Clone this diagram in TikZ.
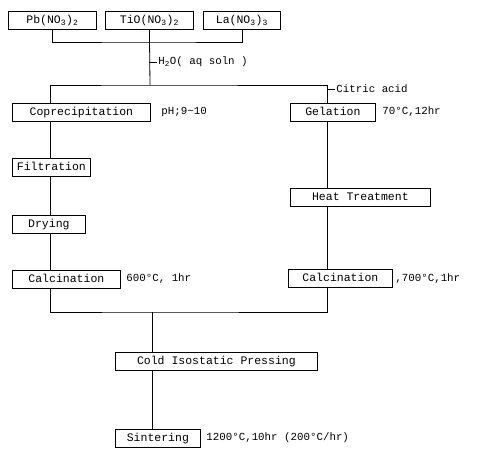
\documentclass[tikz,border=0pt]{standalone}
\usepackage{fontspec}
\setmainfont{Liberation Mono}
\usepackage{tikz}
\usetikzlibrary{arrows}
\tikzset{
	proc node/.style={draw,anchor=west,font=\fontsize{11.5}{12}\selectfont,minimum height=18pt,inner sep=2pt,text depth=1pt},
	note/.style={anchor=west,font=\fontsize{10.8}{12}\selectfont,inner sep=1pt}
}

\begin{document}
\begin{tikzpicture}[x=1pt,y=-1pt,line width=0.8pt]
	\useasboundingbox (0,0) rectangle (477,449);
	% starting nitrates
	\node [proc node,minimum width=88pt] (pb) at (8,20) {Pb(NO\textsubscript{3})\textsubscript{2}};
	\node [proc node,minimum width=88pt] (tio) at (105,20) {TiO(NO\textsubscript{3})\textsubscript{2}};
	\node [proc node,minimum width=77pt] (la) at (203,20) {La(NO\textsubscript{3})\textsubscript{3}};
	\coordinate (mix) at (150,42);
	\coordinate (split) at (150,85);
	\coordinate (lx) at (50,0);
	\coordinate (rx) at (327,0);
	\coordinate (cx) at (152,0);
	\node [note] (water) at (157,62) {H\textsubscript{2}O( aq  soln  )};
	\node [note] (citric) at (335,89) {Citric acid};
	% coprecipitation route
	\node [proc node,minimum width=138pt] (copr) at (12,112) {Coprecipitation};
	\node [note] (ph) at (160,112) {pH;9\textasciitilde10};
	\node [proc node,minimum width=78pt] (filt) at (12,167) {Filtration};
	\node [proc node,minimum width=73pt] (dry) at (12,224) {Drying};
	\node [proc node,minimum width=108pt] (calca) at (12,279) {Calcination};
	\node [note] (calcacond) at (125,279) {600°C, 1hr};
	% gelation route
	\node [proc node,minimum width=85pt] (gel) at (290,112) {Gelation};
	\node [note] (gelcond) at (381,112) {70°C,12hr};
	\node [proc node,minimum width=140pt] (heat) at (290,197) {Heat  Treatment};
	\node [proc node,minimum width=104pt] (calcb) at (288,278) {Calcination};
	\node [note] (calcbcond) at (394,279) {,700°C,1hr};
	\coordinate (merge) at (152,312);
	% forming and firing
	\node [proc node,minimum width=202pt] (cip) at (115,361) {Cold Isostatic Pressing};
	\node [proc node,minimum width=85pt] (sint) at (115,438) {Sintering};
	\node [note] (sintcond) at (205,438) {1200°C,10hr (200°C/hr)};
	% connectors
	\draw (pb.south) |- (mix) -| (la.south);
	\draw (tio.south) -- (split);
	\draw (water.west) -- (water.west -| tio.south);
	\draw (copr.north -| lx) |- (split) -| (gel.north -| rx);
	\draw (citric.west) -- (citric.west -| rx);
	\draw (copr.south -| lx) -- (filt.north -| lx);
	\draw (filt.south -| lx) -- (dry.north -| lx);
	\draw (dry.south -| lx) -- (calca.north -| lx);
	\draw (gel.south -| rx) -- (heat.north -| rx);
	\draw (heat.south -| rx) -- (calcb.north -| rx);
	\draw (calca.south -| lx) |- (merge) -| (calcb.south -| rx);
	\draw (merge) -- (cip.north -| cx);
	\draw (cip.south -| cx) -- (sint.north -| cx);
\end{tikzpicture}
\end{document}
